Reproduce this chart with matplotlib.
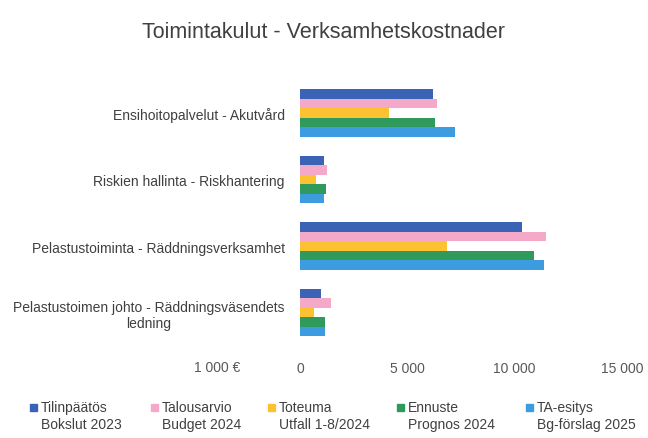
import numpy as np
import matplotlib
matplotlib.use('Agg')
import matplotlib.pyplot as plt
from matplotlib.patches import Rectangle

plt.rcParams['font.family'] = ['Liberation Sans', 'DejaVu Sans']

# categories top to bottom
categories = ['Ensihoitopalvelut - Akutvård',
              'Riskien hallinta - Riskhantering',
              'Pelastustoiminta - Räddningsverksamhet',
              'Pelastustoimen johto - Räddningsväsendets\nledning']

series_labels = ['Tilinpäätös\nBokslut 2023',
                 'Talousarvio\nBudget 2024',
                 'Toteuma\nUtfall 1-8/2024',
                 'Ennuste\nPrognos 2024',
                 'TA-esitys\nBg-förslag 2025']

# values in 1 000 €
tilinpaatos_2023 = [6210, 1120, 10350, 960]
talousarvio_2024 = [6400, 1240, 11470, 1460]
toteuma_2024 = [4130, 745, 6850, 670]
ennuste_2024 = [6270, 1200, 10910, 1180]
ta_esitys_2025 = [7230, 1120, 11360, 1180]

series = [tilinpaatos_2023, talousarvio_2024, toteuma_2024, ennuste_2024, ta_esitys_2025]
colors = ['#3a62b5', '#f5a9c9', '#fcc232', '#2f9a5c', '#3d9be0']

TEXT = '#404040'
TICK = '#595959'

fig = plt.figure(figsize=(6.48, 4.39), dpi=100)
ax = fig.add_axes([0.463, 0.21, 0.497, 0.606])

n = len(series)
h = 0.72 / n
y = np.arange(len(categories))
for i, (vals, col) in enumerate(zip(series, colors)):
    ax.barh(y - 0.36 + (i + 0.5) * h, vals, height=h, color=col, linewidth=0)

ax.set_ylim(len(categories) - 0.5, -0.5)
ax.set_xlim(0, 15000)
ax.set_xticks([0, 5000, 10000, 15000])
ax.set_xticklabels(['0', '5 000', '10 000', '15 000'])
ax.set_yticks(y)
ax.set_yticklabels(categories, multialignment='center')
ax.tick_params(axis='x', length=0, pad=11, labelsize=10, labelcolor=TICK)
ax.tick_params(axis='y', length=0, pad=11, labelsize=10, labelcolor=TEXT)
for s in ax.spines.values():
    s.set_visible(False)

fig.text(217 / 648, 1 - 368 / 439, '1 000 €', ha='center', va='center',
         fontsize=10, color=TICK)
fig.text(0.5, 1 - 32 / 439, 'Toimintakulut - Verksamhetskostnader',
         ha='center', va='center', fontsize=15.5, color=TEXT)

# legend, marker aligned with first text line
leg_x = [33, 154, 271, 400, 529]
for lx, lab, col in zip(leg_x, series_labels, colors):
    fig.patches.append(Rectangle(((lx - 3.5) / 648, 1 - 412 / 439), 7 / 648, 7 / 439,
                                 transform=fig.transFigure, color=col, figure=fig))
    fig.text((lx + 8) / 648, 1 - 401 / 439, lab, ha='left', va='top',
             fontsize=10, color=TEXT, linespacing=1.3)

fig.savefig('out.png', dpi=100)
